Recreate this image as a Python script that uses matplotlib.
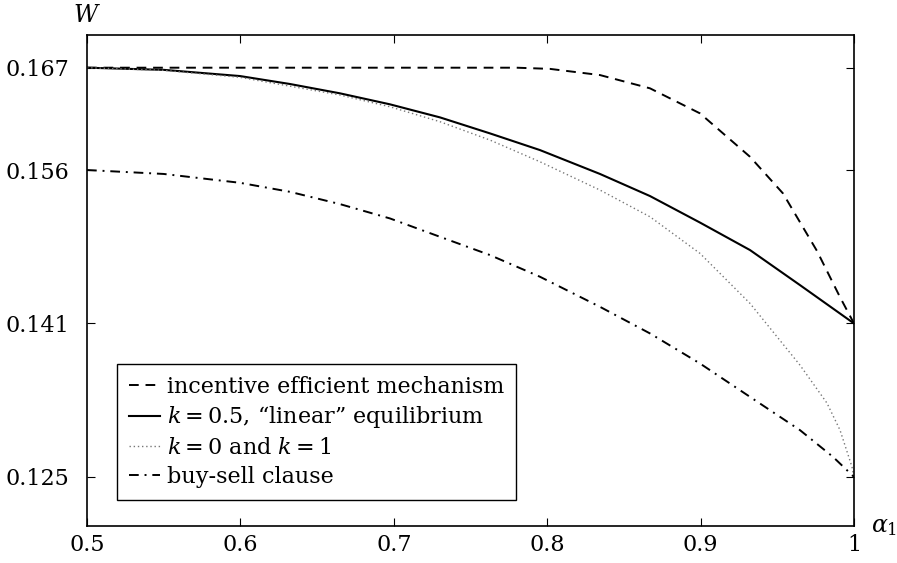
import matplotlib
matplotlib.use("Agg")
import matplotlib.pyplot as plt

plt.rcParams["font.family"] = ["DejaVu Serif"]
plt.rcParams["mathtext.fontset"] = "dejavuserif"

# incentive efficient mechanism (dashed)
x_eff = [0.5, 0.6, 0.7, 0.78, 0.8018, 0.8344, 0.8670, 0.8996, 0.9322, 0.9537, 0.9759, 0.9909, 1.0]
w_eff = [0.16667, 0.16667, 0.16667, 0.16667, 0.16655, 0.16592, 0.16457, 0.16202,
         0.15760, 0.15387, 0.14800, 0.14330, 0.140625]

# k = 0.5 linear equilibrium (solid)
x_lin = [0.5, 0.55, 0.5997, 0.6323, 0.6649, 0.6975, 0.7301, 0.7627, 0.7953, 0.8344,
         0.8670, 0.8996, 0.9322, 0.9648, 1.0]
w_lin = [0.16667, 0.16645, 0.16582, 0.16501, 0.16406, 0.16294, 0.16161, 0.15998,
         0.15828, 0.15585, 0.15360, 0.15090, 0.14810, 0.14453, 0.140625]

# k = 0 and k = 1 (dotted)
x_k01 = [0.5, 0.55, 0.5997, 0.6649, 0.6975, 0.7301, 0.7627, 0.7953, 0.8344, 0.8670,
         0.8996, 0.9322, 0.9648, 0.9824, 0.9909, 0.9987, 1.0]
w_k01 = [0.16667, 0.16640, 0.16569, 0.16389, 0.16269, 0.16117, 0.15930, 0.15709,
         0.15421, 0.15149, 0.14776, 0.14267, 0.13638, 0.13251, 0.12976, 0.12602, 0.125]

# buy-sell clause (dash-dot)
x_bs = [0.5, 0.55, 0.5997, 0.6323, 0.6649, 0.6975, 0.7301, 0.7627, 0.7953, 0.8344,
        0.8670, 0.8996, 0.9322, 0.9648, 0.9863, 1.0]
w_bs = [0.15625, 0.15585, 0.15495, 0.15403, 0.15278, 0.15132, 0.14945, 0.14759,
        0.14538, 0.14232, 0.13961, 0.13655, 0.13315, 0.12976, 0.12704, 0.125]

xticks = [0.5, 0.6, 0.7, 0.8, 0.9, 1.0]
xlabels = ["0.5", "0.6", "0.7", "0.8", "0.9", "1"]
yticks = [0.125, 0.140625, 0.15625, 1 / 6]
ylabels = ["0.125", "0.141", "0.156", "0.167"]

fig = plt.figure(figsize=(8.97, 5.63), dpi=100)
ax = fig.add_axes([87 / 897, 1 - 526 / 563, (854 - 87) / 897, (526 - 35) / 563])

ax.plot(x_eff, w_eff, color="black", lw=1.4, dashes=(5, 3.5),
        label="incentive efficient mechanism")
ax.plot(x_lin, w_lin, color="black", lw=1.5, label=r'$k = 0.5$, “linear” equilibrium')
ax.plot(x_k01, w_k01, color="#777777", lw=1.0, dashes=(1, 2),
        label=r"$k = 0$ and $k = 1$")
ax.plot(x_bs, w_bs, color="black", lw=1.4, dashes=(5, 3, 1, 3), label="buy-sell clause")

ax.set_xlim(0.5, 1.0)
ax.set_ylim(0.12, 0.17)
ax.set_xticks(xticks)
ax.set_xticklabels(xlabels)
ax.set_yticks(yticks)
ax.set_yticklabels(ylabels)
ax.tick_params(direction="in", length=6, width=0.8, top=True, right=True, labelsize=16)
ax.tick_params(axis="y", pad=13)
ax.tick_params(axis="x", pad=6)
for s in ax.spines.values():
    s.set_linewidth(1.2)

ax.text(0.0, 1 + 20 / 491, "$W$", transform=ax.transAxes, ha="center", va="center",
        fontsize=17)
ax.text(1.022, 0.0, r"$\alpha_1$", transform=ax.transAxes, ha="left", va="center",
        fontsize=17)

leg = ax.legend(loc="lower left", bbox_to_anchor=(30 / 767, 26 / 491), fontsize=16,
                frameon=True, fancybox=False, edgecolor="black", framealpha=1,
                handlelength=1.4, handletextpad=0.3, borderpad=0.55, labelspacing=0.3,
                borderaxespad=0)
leg.get_frame().set_linewidth(1.0)

fig.savefig("out.png", dpi=100)
